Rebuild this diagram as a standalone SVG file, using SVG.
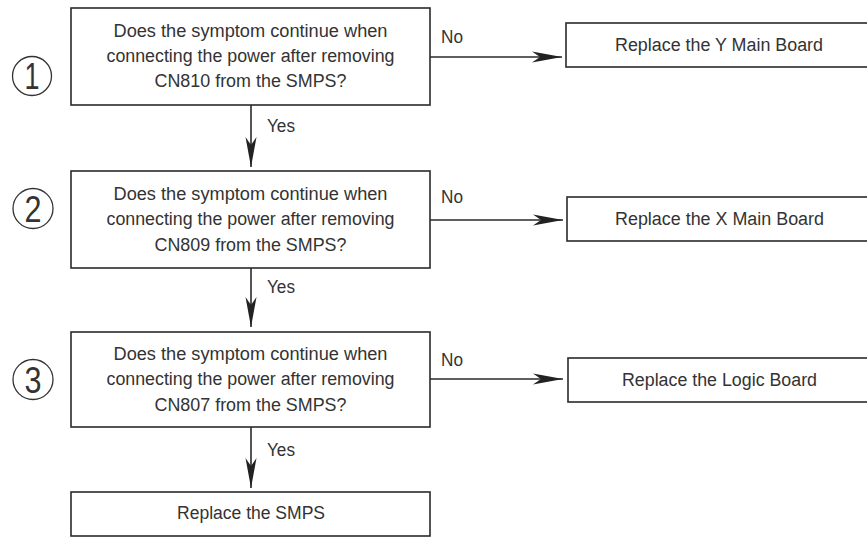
<svg xmlns="http://www.w3.org/2000/svg" width="867" height="539" viewBox="0 0 867 539">
<style>
.box{fill:#fff;stroke:#2a2a2a;stroke-width:1.6}
.t{font-family:"Liberation Sans",Arial,sans-serif;font-size:18px;fill:#333;text-anchor:middle}
.l{font-family:"Liberation Sans",Arial,sans-serif;font-size:18px;fill:#333}
.num{font-family:"Liberation Sans",Arial,sans-serif;font-size:36px;fill:#333;text-anchor:middle}
.circ{fill:none;stroke:#333;stroke-width:1.3}
.c{fill:none;stroke:#2a2a2a;stroke-width:1.6}
</style>
<defs>
<marker id="ah" markerUnits="userSpaceOnUse" markerWidth="40" markerHeight="20" viewBox="-32 -10 34 20" refX="0" refY="0" orient="auto">
<path d="M0,0 L-30,-5.5 L-22,0 L-30,5.5 Z" fill="#222"/>
</marker>
</defs>
<rect width="867" height="539" fill="#fff"/>
<g id="connectors">
<path class="c" d="M430,57 H562" marker-end="url(#ah)"/>
<path class="c" d="M430,220 H563" marker-end="url(#ah)"/>
<path class="c" d="M430,379 H563" marker-end="url(#ah)"/>
<path class="c" d="M251,105 V167" marker-end="url(#ah)"/>
<path class="c" d="M251,268 V327" marker-end="url(#ah)"/>
<path class="c" d="M251,427 V488" marker-end="url(#ah)"/>
<text class="l" x="441" y="43" textLength="22" lengthAdjust="spacingAndGlyphs">No</text>
<text class="l" x="441" y="203" textLength="22" lengthAdjust="spacingAndGlyphs">No</text>
<text class="l" x="441" y="366" textLength="22" lengthAdjust="spacingAndGlyphs">No</text>
<text class="l" x="267" y="132" textLength="28" lengthAdjust="spacingAndGlyphs">Yes</text>
<text class="l" x="267" y="293" textLength="28" lengthAdjust="spacingAndGlyphs">Yes</text>
<text class="l" x="267" y="456" textLength="28" lengthAdjust="spacingAndGlyphs">Yes</text>
</g>
<g id="step1">
<circle class="circ" cx="32" cy="76" r="19.5"/>
<text class="num" x="32" y="89" textLength="15" lengthAdjust="spacingAndGlyphs">1</text>
</g>
<g id="step2">
<circle class="circ" cx="33" cy="208.5" r="20"/>
<text class="num" x="33" y="222" textLength="17" lengthAdjust="spacingAndGlyphs">2</text>
</g>
<g id="step3">
<circle class="circ" cx="33" cy="379.5" r="20"/>
<text class="num" x="33" y="393" textLength="17" lengthAdjust="spacingAndGlyphs">3</text>
</g>
<g id="q1">
<rect class="box" x="71" y="8" width="359" height="97"/>
<text class="t" x="250.5" y="37" textLength="274" lengthAdjust="spacingAndGlyphs">Does the symptom continue when</text>
<text class="t" x="250.5" y="62" textLength="288" lengthAdjust="spacingAndGlyphs">connecting the power after removing</text>
<text class="t" x="250.5" y="87" textLength="192" lengthAdjust="spacingAndGlyphs">CN810 from the SMPS?</text>
</g>
<g id="q2">
<rect class="box" x="71" y="171" width="359" height="97"/>
<text class="t" x="250.5" y="200" textLength="274" lengthAdjust="spacingAndGlyphs">Does the symptom continue when</text>
<text class="t" x="250.5" y="225" textLength="288" lengthAdjust="spacingAndGlyphs">connecting the power after removing</text>
<text class="t" x="250.5" y="251" textLength="192" lengthAdjust="spacingAndGlyphs">CN809 from the SMPS?</text>
</g>
<g id="q3">
<rect class="box" x="71" y="332" width="359" height="95"/>
<text class="t" x="250.5" y="360" textLength="274" lengthAdjust="spacingAndGlyphs">Does the symptom continue when</text>
<text class="t" x="250.5" y="385" textLength="288" lengthAdjust="spacingAndGlyphs">connecting the power after removing</text>
<text class="t" x="250.5" y="411" textLength="192" lengthAdjust="spacingAndGlyphs">CN807 from the SMPS?</text>
</g>
<g id="r1">
<rect class="box" x="566" y="23" width="310" height="44"/>
<text class="t" x="719" y="51" textLength="208" lengthAdjust="spacingAndGlyphs">Replace the Y Main Board</text>
</g>
<g id="r2">
<rect class="box" x="567" y="197" width="310" height="44"/>
<text class="t" x="719.5" y="225" textLength="209" lengthAdjust="spacingAndGlyphs">Replace the X Main Board</text>
</g>
<g id="r3">
<rect class="box" x="568" y="358" width="310" height="44"/>
<text class="t" x="719.5" y="386" textLength="195" lengthAdjust="spacingAndGlyphs">Replace the Logic Board</text>
</g>
<g id="r4">
<rect class="box" x="71" y="492" width="359" height="44"/>
<text class="t" x="251" y="519" textLength="148" lengthAdjust="spacingAndGlyphs">Replace the SMPS</text>
</g>
</svg>
